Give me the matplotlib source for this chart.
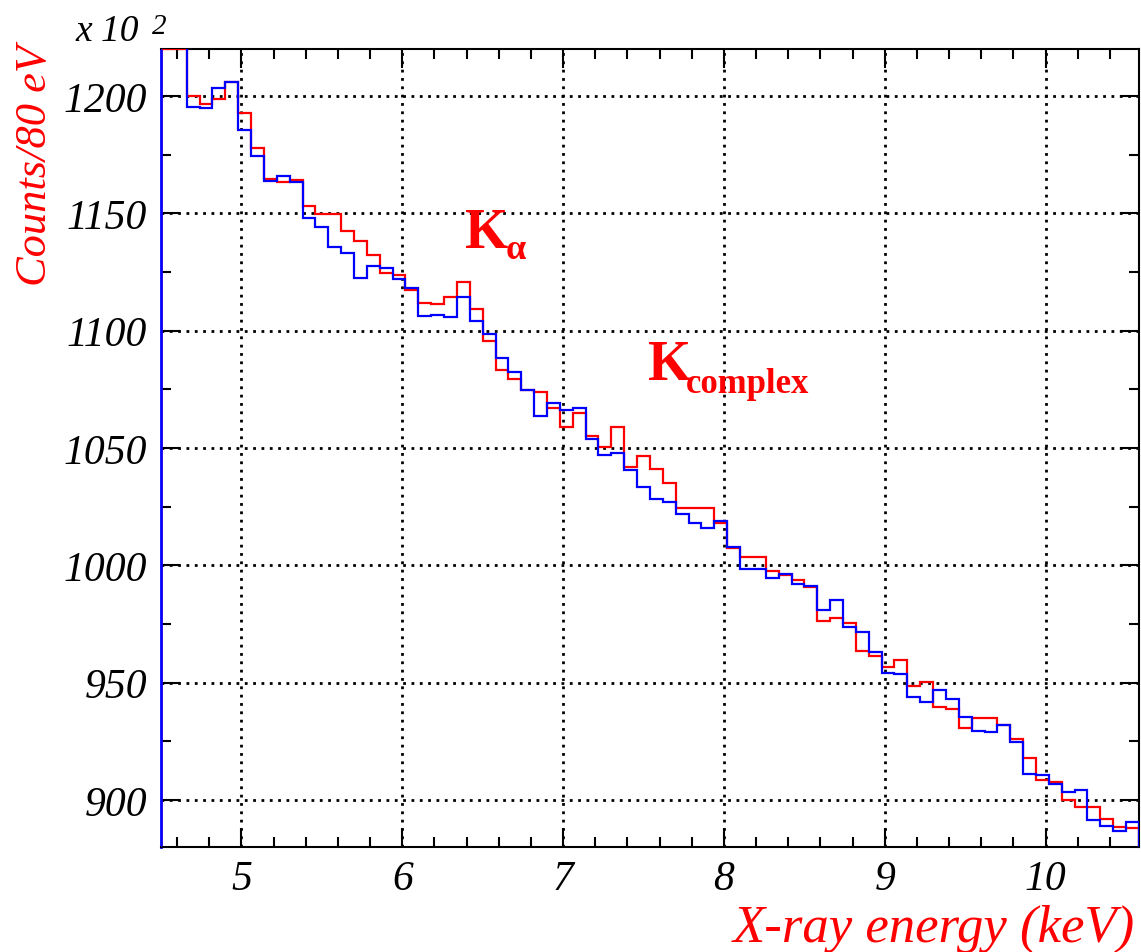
import matplotlib
matplotlib.use("Agg")
import matplotlib.pyplot as plt
import numpy as np

# 80 eV bins from 4.5 keV
edges = 4.5 + 0.08 * np.arange(77)

red = [1220, 1220, 1200, 1196.7, 1198.8, 1205.9, 1192.9, 1177.8, 1164.5, 1163.3,
       1164.2, 1153.1, 1149.7, 1149.7, 1142.4, 1138.0, 1132.3, 1124.4, 1123.6, 1117.3,
       1111.6, 1111.3, 1114.4, 1120.7, 1109.2, 1095.7, 1083.4, 1079.4, 1074.6, 1074.0,
       1067.0, 1059.0, 1065.0, 1055.3, 1050.5, 1058.9, 1041.7, 1046.7, 1041.1, 1035.3,
       1024.5, 1024.6, 1024.6, 1018.2, 1007.3, 1003.6, 1003.6, 997.5, 995.8, 993.8,
       990.9, 976.2, 977.5, 975.6, 963.4, 961.4, 956.6, 959.5, 948.6, 950.2,
       939.7, 938.6, 930.6, 934.8, 935.1, 931.9, 926.2, 917.8, 908.6, 907.6,
       899.9, 897.1, 897.1, 891.8, 888.7, 888.0]

blue = [1240, 1240, 1195.2, 1194.8, 1203.3, 1205.9, 1185.5, 1174.3, 1163.8, 1166.0,
        1163.3, 1147.9, 1144.2, 1135.6, 1133.0, 1122.4, 1127.6, 1126.9, 1121.8, 1118.0,
        1106.3, 1106.6, 1105.9, 1114.3, 1104.2, 1098.7, 1088.3, 1082.3, 1074.6, 1063.7,
        1069.2, 1066.4, 1067.1, 1053.9, 1047.0, 1047.8, 1040.7, 1033.5, 1028.1, 1026.8,
        1022.0, 1017.9, 1016.0, 1018.7, 1007.7, 998.6, 998.6, 994.6, 996.2, 992.2,
        991.4, 981.0, 985.4, 973.6, 971.8, 962.9, 954.2, 953.9, 943.7, 941.7,
        946.7, 942.9, 935.3, 929.4, 929.0, 931.9, 924.7, 911.1, 910.6, 906.7,
        903.4, 904.4, 891.6, 889.0, 886.9, 890.5]

xticks = [5, 6, 7, 8, 9, 10]
yticks = [900, 950, 1000, 1050, 1100, 1150, 1200]

serif = "Liberation Serif"

fig = plt.figure(figsize=(11.41, 9.53), dpi=100)
ax = fig.add_axes([0.1411, 0.1102, 0.9982 - 0.1411, 0.9475 - 0.1102])

ax.stairs(red, edges, baseline=0, color="red", lw=1.6, zorder=3)
ax.stairs(blue, edges, baseline=0, color="blue", lw=1.6, zorder=3.1)

ax.set_xlim(4.5, 10.58)
ax.set_ylim(880, 1220)
ax.set_xticks(xticks)
ax.set_yticks(yticks)
ax.set_xticks(np.arange(4.6, 10.58, 0.2), minor=True)
ax.set_yticks(np.arange(900, 1220, 25), minor=True)

ax.grid(True, which="major", color="black", linestyle=(0, (1, 2)), lw=2)
ax.tick_params(which="both", direction="in", top=True, right=True, width=1.5)
ax.tick_params(which="major", length=14)
ax.tick_params(which="minor", length=7)
ax.tick_params(axis="x", pad=9)
ax.tick_params(axis="y", pad=10)
for lab in ax.get_xticklabels() + ax.get_yticklabels():
    lab.set_fontfamily(serif)
    lab.set_fontstyle("italic")
    lab.set_fontsize(30)
for s in ax.spines.values():
    s.set_linewidth(1.5)
ax.spines["left"].set_color("blue")
ax.spines["left"].set_linewidth(2)

# labels
ax.text(6.389, 1135.6, "K", color="red", fontsize=40, fontweight="bold",
        family=serif, zorder=4)
ax.text(6.645, 1131.0, "\u03b1", color="red", fontsize=26, fontweight="bold",
        family=serif, zorder=4)
ax.text(7.525, 1079.4, "K", color="red", fontsize=40, fontweight="bold",
        family=serif, zorder=4)
ax.text(7.765, 1073.9, "complex", color="red", fontsize=25, fontweight="bold",
        family=serif, zorder=4)

fig.text(35 / 1141, 1 - 45 / 953, "Counts/80 eV", rotation=90, ha="center", va="top",
         color="red", fontsize=32, style="italic", family=serif)
fig.text(1135 / 1141, 1 - 942 / 953, "X-ray energy (keV)", ha="right", va="baseline",
         color="red", fontsize=38, style="italic", family=serif)
fig.text(75 / 1141, 1 - 41 / 953, "x 10", ha="left", va="baseline",
         fontsize=27, style="italic", family=serif)
fig.text(152 / 1141, 1 - 34 / 953, "2", ha="left", va="baseline",
         fontsize=21, style="italic", family=serif)

fig.savefig("out.png", dpi=100)
